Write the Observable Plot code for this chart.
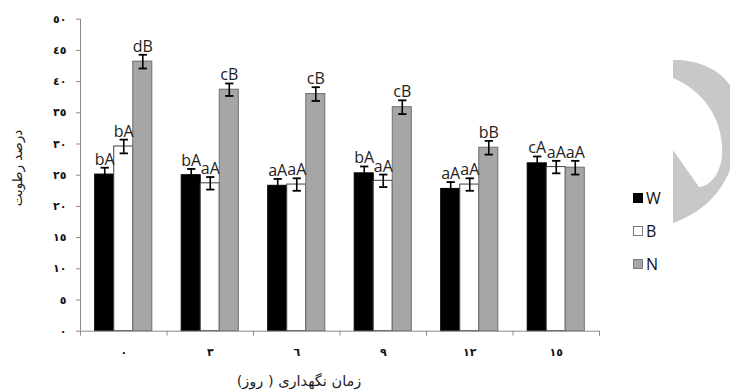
<!DOCTYPE html>
<html>
<head>
<meta charset="utf-8">
<script src="https://cdn.jsdelivr.net/npm/d3@7"></script>
<script src="https://cdn.jsdelivr.net/npm/@observablehq/plot@0.6"></script>
<style>
  html, body { margin: 0; padding: 0; background: #fff; }
  #wrap { position: relative; width: 730px; height: 392px; overflow: hidden; font-family: "DejaVu Sans", sans-serif; }
  #wrap > svg.chart { position: absolute; left: 0; top: 0; }
  .ytitle { position: absolute; left: 17px; top: 168px; transform: translate(-50%, -50%) rotate(-90deg); white-space: nowrap; font-size: 13.5px; color: #222; direction: rtl; }
  .xtitle { position: absolute; left: 299px; top: 381px; transform: translate(-50%, -50%); white-space: nowrap; font-size: 14.5px; color: #222; direction: rtl; }
  .legend { position: absolute; left: 633px; top: 188px; font-family: "Open Sans", sans-serif; font-size: 16px; color: #111; }
  .legend div { display: flex; align-items: center; height: 20px; margin-bottom: 13px; }
  .legend span.sw { display: inline-block; width: 8px; height: 8px; margin-right: 3px; }
  .deco { position: absolute; left: 0; top: 0; }
</style>
</head>
<body>
<div id="wrap"></div>
<script>
// ---- data ----
const days = ["٠", "٣", "٦", "٩", "١٢", "١٥"];
const series = ["W", "B", "N"];
const wValues = [25.1, 25.0, 23.3, 25.3, 22.8, 26.9];
const bValues = [29.6, 23.7, 23.5, 24.1, 23.5, 26.3];
const nValues = [43.2, 38.7, 38.0, 35.9, 29.4, 26.2];
const wErrors = [1.1, 1.0, 1.1, 1.1, 1.1, 1.1];
const bErrors = [1.1, 1.0, 1.0, 1.0, 1.0, 1.0];
const nErrors = [1.1, 1.0, 1.1, 1.1, 1.1, 1.1];
const wLabels = ["bA", "bA", "aA", "bA", "aA", "cA"];
const bLabels = ["bA", "aA", "aA", "aA", "aA", "aA"];
const nLabels = ["dB", "cB", "cB", "cB", "bB", "aA"];
const yTickValues = [0, 5, 10, 15, 20, 25, 30, 35, 40, 45, 50];
const yTickLabels = ["٠", "٥", "١٠", "١٥", "٢٠", "٢٥", "٣٠", "٣٥", "٤٠", "٤٥", "٥٠"];
const yTitle = "درصد رطوبت";
const xTitle = "زمان نگهداری ( روز)";

// ---- build table ----
const fills = {W: "#000000", B: "#ffffff", N: "#a6a6a6"};
const strokes = {W: "#000000", B: "#404040", N: "#6e6e6e"};
const valueSets = {W: wValues, B: bValues, N: nValues};
const errorSets = {W: wErrors, B: bErrors, N: nErrors};
const labelSets = {W: wLabels, B: bLabels, N: nLabels};
const barW = 0.22; // band fraction per bar
const rows = [];
series.forEach((s, j) => {
  days.forEach((d, i) => {
    const xc = i + (j - 1) * barW;
    rows.push({series: s, day: d, i, xc, x1: xc - barW / 2, x2: xc + barW / 2,
      value: valueSets[s][i], err: errorSets[s][i], label: labelSets[s][i]});
  });
});
const boundaries = days.map((d, i) => i - 0.5).concat([days.length - 0.5]);
const centers = days.map((d, i) => i);
const cap = 0.048;
const axisGray = "#8c8c8c";

const chart = Plot.plot({
  width: 730,
  height: 392,
  marginLeft: 80,
  marginRight: 131,
  marginTop: 18.7,
  marginBottom: 61.3,
  x: {type: "linear", domain: [-0.5, days.length - 0.5]},
  y: {domain: [0, 50]},
  style: {background: "transparent", overflow: "visible"},
  marks: [
    Plot.rectY(rows, {x1: "x1", x2: "x2", y1: 0, y2: "value",
      fill: d => fills[d.series], stroke: d => strokes[d.series], strokeWidth: 1}),
    Plot.ruleX(rows, {x: "xc", y1: d => d.value - d.err, y2: d => d.value + d.err, stroke: "#000", strokeWidth: 1.6}),
    Plot.link(rows, {x1: d => d.xc - cap, x2: d => d.xc + cap, y1: d => d.value + d.err, y2: d => d.value + d.err, stroke: "#000", strokeWidth: 1.8}),
    Plot.link(rows, {x1: d => d.xc - cap, x2: d => d.xc + cap, y1: d => d.value - d.err, y2: d => d.value - d.err, stroke: "#000", strokeWidth: 1.8}),
    Plot.text(rows, {x: "xc", y: d => d.value + d.err, text: "label", dy: -3, lineAnchor: "bottom",
      fontSize: 16, fontFamily: "Open Sans", fill: "#222"}),
    Plot.ruleY([0], {stroke: axisGray, strokeWidth: 1}),
    Plot.ruleX([-0.5], {stroke: axisGray, strokeWidth: 1}),
    Plot.axisY({ticks: yTickValues, tickFormat: d => yTickLabels[yTickValues.indexOf(d)],
      tickSize: 4, tickPadding: 10, stroke: axisGray, fill: "#111", fontSize: 11, fontWeight: "bold",
      fontFamily: "DejaVu Sans", label: null}),
    Plot.axisX({ticks: boundaries, tickFormat: () => "", tickSize: 5, stroke: axisGray, label: null}),
    Plot.axisX({ticks: centers, tickFormat: i => days[i], tickSize: 0, tickPadding: 17,
      fill: "#111", fontSize: 11, fontWeight: "bold", fontFamily: "DejaVu Sans", label: null})
  ]
});
chart.classList.add("chart");
const wrap = document.getElementById("wrap");

// decorative crescent (watermark)
const deco = document.createElementNS("http://www.w3.org/2000/svg", "svg");
deco.setAttribute("class", "deco");
deco.setAttribute("width", 730);
deco.setAttribute("height", 392);
deco.innerHTML = '<path fill="#c8c8c8" d="M673,60 C695,59 718,68 730,85 L730,170 C718,200 695,215 673,223 L673,150 L699,187 C712,186 724,170 722,145 C720,118 705,92 673,78 Z"/>';
wrap.appendChild(deco);
wrap.appendChild(chart);

const yt = document.createElement("div");
yt.className = "ytitle"; yt.textContent = yTitle; wrap.appendChild(yt);
const xt = document.createElement("div");
xt.className = "xtitle"; xt.textContent = xTitle; wrap.appendChild(xt);

const legend = document.createElement("div");
legend.className = "legend";
series.forEach(s => {
  const row = document.createElement("div");
  const sw = document.createElement("span");
  sw.className = "sw";
  sw.style.background = fills[s];
  sw.style.border = "1px solid " + (s === "W" ? "#000" : "#7a7a7a");
  row.appendChild(sw);
  row.appendChild(document.createTextNode(s));
  legend.appendChild(row);
});
wrap.appendChild(legend);
</script>
</body>
</html>
